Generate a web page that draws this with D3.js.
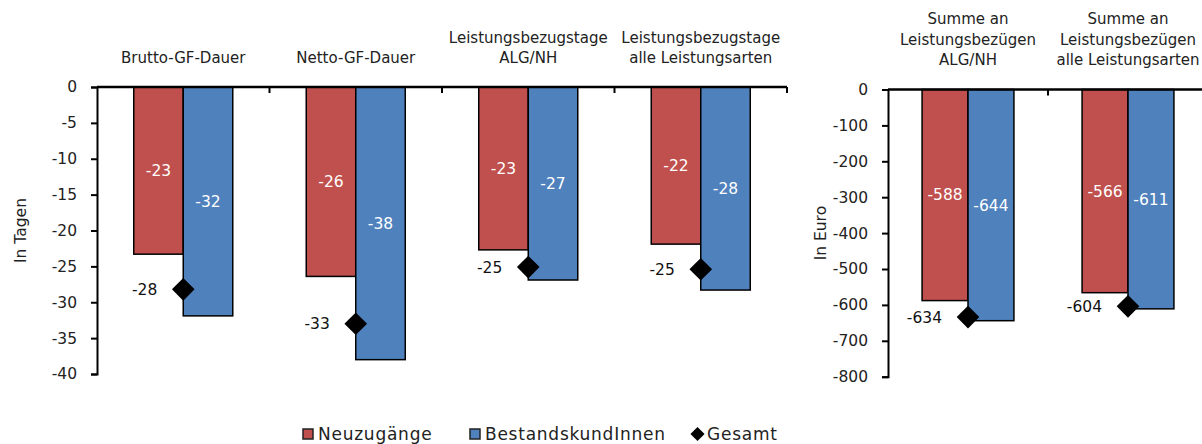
<!DOCTYPE html>
<html>
<head>
<meta charset="utf-8">
<script src="https://cdn.jsdelivr.net/npm/d3@7"></script>
<style>
  body { margin: 0; background: #fff; }
  svg { display: block; font-family: 'DejaVu Sans', sans-serif; }
</style>
</head>
<body>
<div id="chart"></div>
<script>
// data: days panel
const dayCategories = [
  ['Brutto-GF-Dauer'],
  ['Netto-GF-Dauer'],
  ['Leistungsbezugstage', 'ALG/NH'],
  ['Leistungsbezugstage', 'alle Leistungsarten']
]
const dayNeu = [-23.3, -26.4, -22.7, -21.9]
const dayBestand = [-31.9, -38.0, -26.9, -28.3]
const dayGesamt = [-28.2, -33.0, -25.1, -25.4]
const dayTicks = [0, -5, -10, -15, -20, -25, -30, -35, -40]

// data: euro panel
const euroCategories = [
  ['Summe an', 'Leistungsbezügen', 'ALG/NH'],
  ['Summe an', 'Leistungsbezügen', 'alle Leistungsarten']
]
const euroNeu = [-588, -566]
const euroBestand = [-644, -611]
const euroGesamt = [-634, -604]
const euroTicks = [0, -100, -200, -300, -400, -500, -600, -700, -800]

const seriesNames = ['Neuzugänge', 'BestandskundInnen', 'Gesamt']
const colors = { neu: '#C0504D', best: '#4F81BD' }

const width = 1202
const height = 444

// plain hyphen as minus sign, like the original
const fmt = d3.formatLocale({ decimal: ',', thousands: '.', grouping: [3], currency: ['', ' €'], minus: '-' }).format('.0f')

const svg = d3.select('#chart')
  .append('svg')
  .attr('width', width)
  .attr('height', height)

function panel (opts) {
  const g = svg.append('g')
  const idx = opts.categories.map((c, i) => i)

  const x = d3.scaleBand().domain(idx).range(opts.xRange).padding(0)
  const inner = d3.scaleBand().domain(['neu', 'best'])
    .range([x.bandwidth() * 0.213, x.bandwidth() * 0.787])
  const y = d3.scaleLinear().domain([0, opts.min]).range(opts.yRange)

  // y axis
  const yAxis = g.append('g')
    .attr('transform', `translate(${opts.xRange[0]},0)`)
    .call(d3.axisLeft(y).tickValues(opts.ticks).tickFormat(fmt)
      .tickSizeOuter(0).tickSize(6).tickPadding(14))
  yAxis.select('.domain').attr('stroke', '#000').attr('stroke-width', 2)
  yAxis.selectAll('.tick line').attr('stroke', '#000').attr('stroke-width', 2)
  yAxis.selectAll('.tick text')
    .attr('font-size', 15.5)
    .attr('fill', '#222')
    .attr('font-family', 'DejaVu Sans')

  // y title
  g.append('text')
    .attr('transform', `translate(${opts.titleX},${(opts.yRange[0] + opts.yRange[1]) / 2}) rotate(-90)`)
    .attr('text-anchor', 'middle')
    .attr('font-size', 15.5)
    .attr('fill', '#222')
    .text(opts.title)

  // bars
  const rows = idx.map(i => ({ i, neu: opts.neu[i], best: opts.best[i], ges: opts.ges[i] }))
  const groups = g.selectAll('g.grp')
    .data(rows)
    .enter().append('g')
    .attr('class', 'grp')
    .attr('transform', d => `translate(${x(d.i)},0)`)

  ;['neu', 'best'].forEach(key => {
    groups.append('rect')
      .attr('x', inner(key))
      .attr('y', y(0))
      .attr('width', inner.bandwidth())
      .attr('height', d => y(d[key]) - y(0))
      .attr('fill', colors[key])
      .attr('stroke', '#000')
      .attr('stroke-width', 1.5)
    groups.append('text')
      .attr('x', inner(key) + inner.bandwidth() / 2)
      .attr('y', d => (y(0) + y(d[key])) / 2)
      .attr('dy', '0.35em')
      .attr('text-anchor', 'middle')
      .attr('font-size', 15.5)
      .attr('fill', '#fff')
      .text(d => fmt(d[key]))
  })

  // x axis line at zero with boundary ticks
  const bounds = idx.map(i => x(i)).concat(opts.xRange[1])
  g.append('line')
    .attr('x1', opts.xRange[0]).attr('x2', opts.xRange[1])
    .attr('y1', y(0)).attr('y2', y(0))
    .attr('stroke', '#000').attr('stroke-width', 2.5)
  g.selectAll('line.xt')
    .data(bounds.slice(1))
    .enter().append('line')
    .attr('class', 'xt')
    .attr('x1', d => d).attr('x2', d => d)
    .attr('y1', y(0)).attr('y2', y(0) + 6)
    .attr('stroke', '#000').attr('stroke-width', 2)

  // gesamt diamonds
  const cx = inner('best')
  groups.append('rect')
    .attr('x', -8).attr('y', -8)
    .attr('width', 16).attr('height', 16)
    .attr('fill', '#000')
    .attr('transform', d => `translate(${cx},${y(d.ges)}) rotate(45)`)
  groups.append('text')
    .attr('x', cx - 26)
    .attr('y', d => y(d.ges))
    .attr('dy', '0.35em')
    .attr('text-anchor', 'end')
    .attr('font-size', 15.5)
    .attr('fill', '#111')
    .text(d => fmt(d.ges))

  // category labels above
  const labels = g.selectAll('text.cat')
    .data(rows)
    .enter().append('text')
    .attr('class', 'cat')
    .attr('text-anchor', 'middle')
    .attr('font-size', 15)
    .attr('fill', '#222')
    .attr('transform', d => `translate(${x(d.i) + x.bandwidth() / 2},${opts.labelBase})`)
  labels.each(function (d) {
    const lines = opts.categories[d.i]
    const t = d3.select(this)
    lines.forEach((s, k) => {
      t.append('tspan')
        .attr('x', 0)
        .attr('y', (k - lines.length + 1) * 20.5)
        .text(s)
    })
  })
}

panel({
  categories: dayCategories,
  neu: dayNeu, best: dayBestand, ges: dayGesamt,
  ticks: dayTicks, min: -40,
  xRange: [97, 787], yRange: [87, 374],
  title: 'In Tagen', titleX: 26, labelBase: 63
})

panel({
  categories: euroCategories,
  neu: euroNeu, best: euroBestand, ges: euroGesamt,
  ticks: euroTicks, min: -800,
  xRange: [888, 1208], yRange: [89.5, 376.7],
  title: 'In Euro', titleX: 826, labelBase: 65
})

// legend
const legend = svg.append('g').attr('class', 'legend')
const legendX = [303, 470, 690]
seriesNames.forEach((name, i) => {
  const lg = legend.append('g').attr('transform', `translate(${legendX[i]},434)`)
  if (i < 2) {
    lg.append('rect')
      .attr('x', 0).attr('y', -5)
      .attr('width', 10).attr('height', 10)
      .attr('fill', i === 0 ? colors.neu : colors.best)
      .attr('stroke', '#222').attr('stroke-width', 1.5)
  } else {
    lg.append('rect')
      .attr('x', -5).attr('y', -5)
      .attr('width', 10).attr('height', 10)
      .attr('fill', '#000')
      .attr('transform', 'translate(7.5,0) rotate(45)')
  }
  lg.append('text')
    .attr('x', i < 2 ? 15 : 17)
    .attr('y', 6)
    .attr('font-size', 17)
    .attr('letter-spacing', 0.75)
    .attr('fill', '#222')
    .text(name)
})
</script>
</body>
</html>
